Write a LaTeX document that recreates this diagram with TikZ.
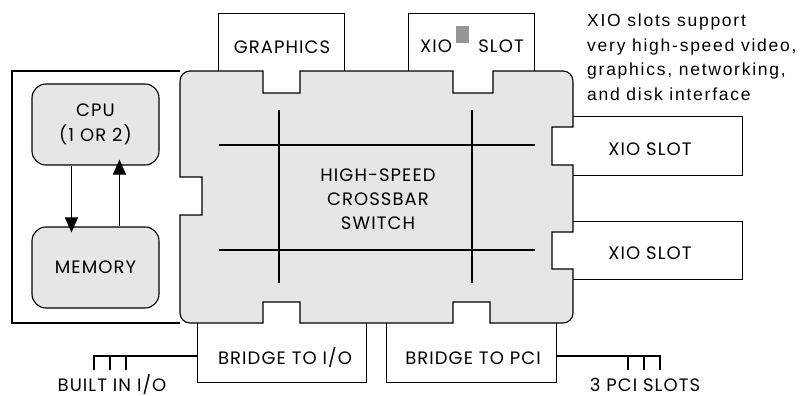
\documentclass[tikz,border=0pt]{standalone}
\usepackage{fontspec}
\usetikzlibrary{arrows.meta,calc}
\newfontfamily\labfont[LetterSpace=6]{Poppins}
\newfontfamily\annfont[LetterSpace=10]{Liberation Sans}
\definecolor{xbarfill}{RGB}{230,230,230}
\definecolor{sqgray}{RGB}{150,150,150}
\begin{document}
\begin{tikzpicture}[x=1pt,y=-1pt,
  outline/.style={draw=black,line width=1.1pt,line join=miter},
  xbar/.style={outline,fill=xbarfill},
  membox/.style={draw=black,line width=1.1pt,fill=xbarfill,rounded corners=14pt,inner sep=0pt,align=center,font=\labfont\fontsize{18}{25}\selectfont},
  lab/.style={inner sep=0pt,font=\labfont\fontsize{18}{24}\selectfont,align=center},
  ann/.style={inner sep=0pt,font=\annfont\fontsize{17.5}{24.5}\selectfont,align=left},
  arr/.style={line width=1.1pt,-{Triangle[width=13pt,length=15pt]}},
  grid/.style={line width=1.1pt}]
\useasboundingbox (0,0) rectangle (809,396);

% crossbar switch body
\draw[xbar] (180,81) .. controls (180,75.5) and (184.5,71) .. (190,71)
  -- (263,71) -- (263,93) -- (300,93) -- (300,71)
  -- (453,71) -- (453,93) -- (493,93) -- (493,71)
  -- (563,71) .. controls (568.5,71) and (573,75.5) .. (573,81)
  -- (573,127) -- (552,127) -- (552,165) -- (573,165)
  -- (573,232) -- (552,232) -- (552,269) -- (573,269)
  -- (573,313) .. controls (573,318.5) and (568.5,323) .. (563,323)
  -- (490,323) -- (490,302) -- (453,302) -- (453,323)
  -- (300,323) -- (300,302) -- (263,302) -- (263,323)
  -- (190,323) .. controls (184.5,323) and (180,318.5) .. (180,313)
  -- (180,215) -- (202,215) -- (202,177) -- (180,177) -- cycle;

% crossbar grid
\draw[grid] (279,110) -- (279,283);
\draw[grid] (472,110) -- (472,283);
\draw[grid] (219,145) -- (535,145);
\draw[grid] (219,250) -- (535,250);
\node[lab] (xbartext) at (378,199) {HIGH-SPEED\\CROSSBAR\\SWITCH};

% processor board
\draw[outline] (180,71) -- (12,71) -- (12,323) -- (180,323);
\node[membox,minimum width=127pt,minimum height=81pt] (cpu) at (95.5,124.5) {CPU\\(1 OR 2)};
\node[membox,minimum width=127pt,minimum height=81pt] (mem) at (95.5,267.5) {MEMORY};
\draw[arr,shorten >=-6pt] ($(cpu.south west)+(40,0)$) -- ($(mem.north west)+(40,0)$);
\draw[arr,shorten >=-6pt] ($(mem.north west)+(88,0)$) -- ($(cpu.south west)+(88,0)$);

% top slots
\node[inner sep=0pt,minimum width=125pt,minimum height=57pt] (gfx) at (281.5,42.5) {};
\draw[outline] (gfx.south west) -- (gfx.north west) -- (gfx.north east) -- (gfx.south east);
\node[lab] (gfxtext) at (282,47) {GRAPHICS};

\node[inner sep=0pt,minimum width=125pt,minimum height=57pt] (xiotop) at (471.5,42.5) {};
\draw[outline] (xiotop.south west) -- (xiotop.north west) -- (xiotop.north east) -- (xiotop.south east);
\node[lab] (xiotopa) at (436,46) {XIO};
\node[lab] (xiotopb) at (501,46) {SLOT};
\fill[sqgray] (456,26) rectangle (469,43);

% right slots
\node[inner sep=0pt,minimum width=169pt,minimum height=58pt] (xioa) at (657.5,146) {};
\draw[outline] (xioa.north west) -- (xioa.north east) -- (xioa.south east) -- (xioa.south west);
\node[lab] (xioatext) at (650,149) {XIO SLOT};

\node[inner sep=0pt,minimum width=169pt,minimum height=57pt] (xiob) at (657.5,250.5) {};
\draw[outline] (xiob.north west) -- (xiob.north east) -- (xiob.south east) -- (xiob.south west);
\node[lab] (xiobtext) at (650,253) {XIO SLOT};

% bridges
\node[inner sep=0pt,minimum width=168pt,minimum height=59pt] (bio) at (282,352.5) {};
\draw[outline] (bio.north west) -- (bio.south west) -- (bio.south east) -- (bio.north east);
\node[lab] (biotext) at (285,358) {BRIDGE TO I/O};

\node[inner sep=0pt,minimum width=169pt,minimum height=59pt] (bpci) at (471.5,352.5) {};
\draw[outline] (bpci.north west) -- (bpci.south west) -- (bpci.south east) -- (bpci.north east);
\node[lab] (bpcitext) at (473,358) {BRIDGE TO PCI};

% connectors to built-in I/O and PCI slots
\coordinate (iobus) at (94,356);
\coordinate (pcibus) at (660,356);
\draw[outline] (bio.west |- iobus) -- (iobus) -- ++(0,14);
\draw[outline] ($(iobus)+(16,0)$) -- ++(0,14);
\draw[outline] ($(iobus)+(32,0)$) -- ++(0,14);
\draw[outline] (bpci.east |- pcibus) -- (pcibus) -- ++(0,14);
\draw[outline] ($(pcibus)+(-16,0)$) -- ++(0,14);
\draw[outline] ($(pcibus)+(-32,0)$) -- ++(0,14);
\node[lab,anchor=base] (biolabel) at (112,391) {BUILT IN I/O};
\node[lab,anchor=base] (pcilabel) at (645,391) {3 PCI SLOTS};

% annotation
\node[ann,anchor=north west] (note) at (587,14) {XIO slots support\\very high-speed video,\\graphics, networking,\\and disk interface};
\end{tikzpicture}
\end{document}
